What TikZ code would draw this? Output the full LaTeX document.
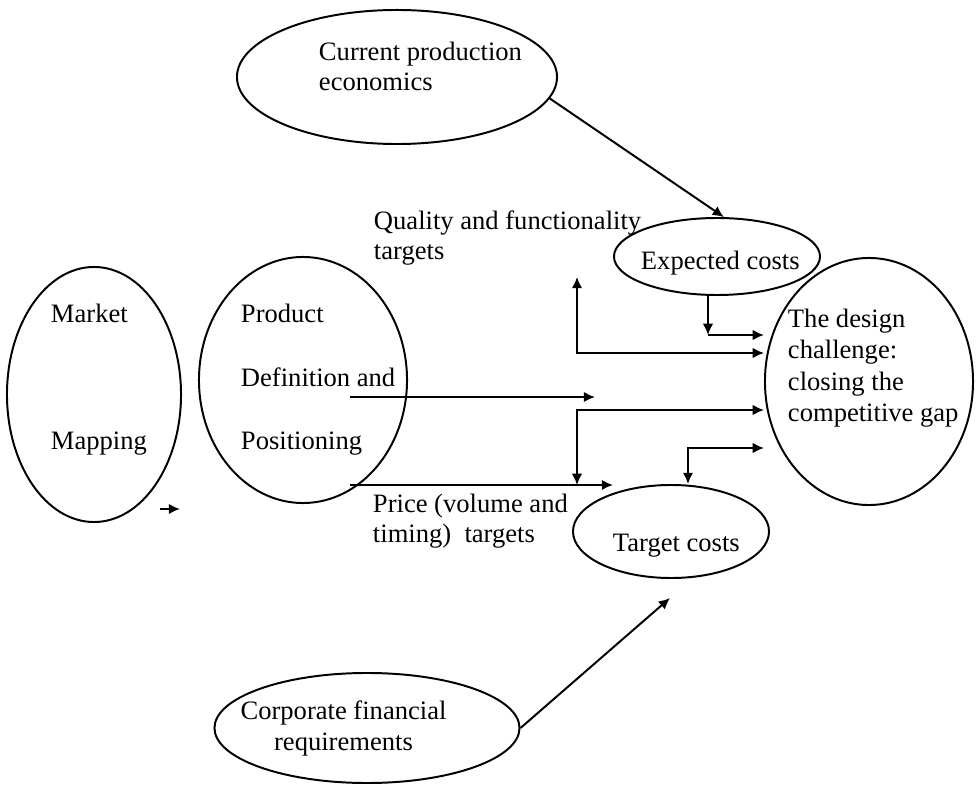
\documentclass[tikz,border=0pt]{standalone}
\usepackage{fontspec}
\setmainfont{Liberation Serif}
\usepackage{tikz}
\usetikzlibrary{arrows.meta,shapes.geometric}

\tikzset{
  oval/.style={ellipse,draw,line width=1.4pt,inner sep=0pt},
  txt/.style={anchor=base west,inner sep=0pt,align=left,font=\fontsize{18.9}{21.6}\selectfont},
  dbl/.style={font=\fontsize{18.9}{45.2}\selectfont},
}

\begin{document}
\begin{tikzpicture}[x=0.025cm,y=-0.025cm,line width=1.4pt,>={Latex[length=8pt,width=7.5pt]}]
\useasboundingbox (0,0) rectangle (976,787);

\node[oval,minimum width=8cm,minimum height=3.35cm] (current) at (397,77) {};
\node[oval,minimum width=5.15cm,minimum height=1.925cm] (expected) at (717,256.5) {};
\node[oval,minimum width=4.35cm,minimum height=6.375cm] (market) at (94,394.5) {};
\node[oval,minimum width=5.2cm,minimum height=6.15cm] (product) at (303,380) {};
\node[oval,minimum width=5.2cm,minimum height=6.175cm] (design) at (869,381.5) {};
\node[oval,minimum width=4.9cm,minimum height=2.325cm] (target) at (671,531.5) {};
\node[oval,minimum width=7.625cm,minimum height=2.75cm] (corporate) at (367,728) {};

\node[txt] (currentT) at (318,91) {Current production\\economics};
\node[txt] (qualT) at (373,260) {Quality and functionality\\targets};
\node[txt] (expectedT) at (640,270) {Expected costs};
\node[txt,dbl] (marketT) at (50,450) {Market\\[45.2pt]Mapping};
\node[txt,dbl] (productT) at (240,450) {Product\\Definition and\\Positioning};
\node[txt,font=\fontsize{18.9}{22.5}\selectfont] (designT) at (787,422) {The design\\challenge:\\closing the\\competitive gap};
\node[txt] (priceT) at (372,543) {Price (volume and\\timing)\ \ targets};
\node[txt] (targetT) at (612,552) {Target costs};
\node[txt,anchor=base,align=center] (corporateT) at (343.5,750) {Corporate financial\\requirements};

\coordinate (defA) at (350,397);
\coordinate (defB) at (595,397);
\coordinate (priA) at (350,485);
\coordinate (priB) at (613,485);
\coordinate (qualA) at (577,277);
\coordinate (qualB) at (577,353);
\coordinate (costA) at (577,485);
\coordinate (costB) at (577,410);
\coordinate (expB) at (708,335);
\coordinate (tgtB) at (688,448);
\coordinate (tgtIn) at (670,598);
\coordinate (mapA) at (160,509);
\coordinate (mapB) at (180,509);

\draw[->] (current.-8) -- (expected.80);
\draw[->] (corporate.east) -- (tgtIn);
\draw[->] (defA) -- (defB);
\draw[->] (priA) -- (priB);
\draw[<->] (qualA) -- (qualB) -- (qualB -| design.west);
\draw[<->] (costA) -- (costB) -- (costB -| design.west);
\draw[->] (expected.south -| expB) -- (expB);
\draw[->] (expB) -- (expB -| design.west);
\draw[<->] (target.north -| tgtB) -- (tgtB) -- (tgtB -| design.west);
\draw[->] (mapA) -- (mapB);
\end{tikzpicture}
\end{document}
